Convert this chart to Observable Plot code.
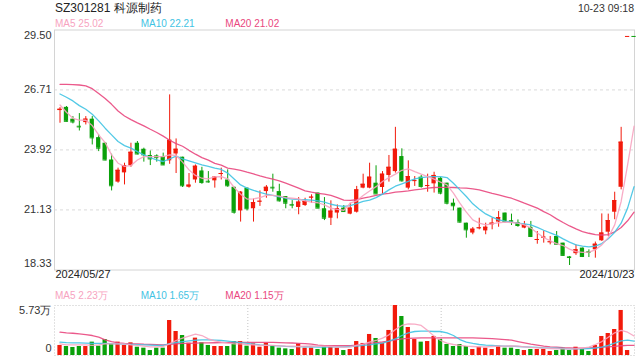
<!DOCTYPE html>
<html><head><meta charset="utf-8">
<script src="https://cdn.jsdelivr.net/npm/d3@7"></script>
<script src="https://cdn.jsdelivr.net/npm/@observablehq/plot@0.6"></script>
<style>
body{margin:0;background:#fff;font-family:"Liberation Sans",Arial,sans-serif;}
#wrap{position:relative;width:640px;height:360px;overflow:hidden;background:#fff;}
.t{position:absolute;white-space:nowrap;z-index:5;}
.p{position:absolute;left:0;}
</style></head><body><div id="wrap"></div>
<script>
// ---------- data ----------
const stockCode = "SZ301281";
const stockName = "科源制药";
const timeLabel = "10-23 09:18";
const dateLabels = ["2024/05/27", "2024/10/23"];
const maNames = ["MA5", "MA10", "MA20"];
const maLastLabels = ["25.02", "22.21", "21.02"];
const volMaLastLabels = ["2.23万", "1.65万", "1.15万"];
const yTicks = [29.50, 26.71, 23.92, 21.13, 18.33];
const volMax = 5.73;
const volTickLabels = ["5.73万", "0"];

const open = [25.75,25.90,25.35,25.02,25.19,25.35,24.49,24.23,23.45,22.42,22.85,23.18,24.23,23.95,23.66,23.64,23.61,23.41,23.73,23.58,
22.18,22.52,22.94,22.46,22.48,22.79,22.52,22.18,21.08,22.14,21.18,21.50,21.98,22.18,21.98,21.75,21.38,21.24,21.33,21.69,
21.91,21.18,20.74,20.98,21.21,20.93,21.02,22.14,22.14,22.37,22.17,22.73,22.91,23.61,22.14,22.46,22.65,22.23,22.34,22.60,
22.37,21.44,21.21,20.51,20.05,20.26,20.15,20.43,20.56,20.98,20.63,20.54,20.28,20.31,19.72,19.83,19.61,19.89,19.58,18.94,
19.09,19.35,19.18,19.27,19.69,20.09,21.02,22.18,29.20,29.20];
const high = [25.89,25.94,25.47,25.61,25.47,25.47,24.62,24.26,23.72,23.07,23.30,24.23,24.31,24.00,23.87,23.69,23.77,26.48,24.43,23.58,
22.82,23.22,23.11,22.91,22.68,23.07,22.99,22.18,21.98,22.14,21.63,22.01,22.26,22.79,22.32,21.75,21.56,21.70,21.67,21.83,
21.91,21.70,21.55,21.36,21.33,21.44,22.22,22.79,23.30,23.18,22.91,23.66,24.97,23.97,23.41,22.68,22.73,22.79,22.88,22.63,
22.37,21.63,21.21,20.51,20.31,20.74,20.51,20.74,21.05,20.98,20.93,20.66,20.59,20.59,20.12,20.15,19.89,20.12,19.58,18.96,
19.50,19.35,19.27,19.63,20.94,20.93,21.95,24.97,29.20,29.20];
const low = [25.16,25.22,25.13,24.80,25.08,24.15,23.84,23.41,22.01,22.37,22.29,23.11,23.69,23.35,23.19,23.35,23.19,23.25,22.82,22.17,
22.14,22.37,22.32,22.37,22.14,22.52,22.18,20.93,20.56,21.08,20.56,21.29,21.67,21.95,21.49,21.18,21.18,20.90,21.29,21.44,
21.18,20.63,20.40,20.71,21.02,20.90,20.98,22.11,22.11,21.86,21.86,22.42,22.84,22.42,22.06,22.22,22.14,21.95,21.91,21.83,
21.36,21.08,20.51,19.81,19.97,20.20,19.97,20.20,20.32,20.51,20.40,20.32,20.25,19.84,19.53,19.58,19.50,19.50,18.96,18.54,
19.01,18.91,18.91,18.88,19.66,19.89,20.67,22.06,29.20,29.20];
const close = [25.81,25.25,25.22,24.99,25.35,24.48,24.00,23.45,22.25,22.97,23.19,23.81,23.73,23.69,23.50,23.56,23.22,24.37,23.95,22.25,
22.28,23.16,22.40,22.43,22.65,22.82,22.25,21.02,21.95,21.18,21.47,21.53,22.18,22.15,21.55,21.44,21.35,21.49,21.52,21.72,
21.21,20.74,21.07,21.18,21.05,21.21,22.06,22.32,22.65,21.87,22.79,23.11,23.95,22.48,22.68,22.49,22.22,22.26,22.73,21.91,
21.44,21.32,20.56,20.20,20.23,20.29,20.32,20.51,20.77,20.59,20.60,20.40,20.43,19.89,19.75,19.86,19.64,19.53,19.01,18.91,
19.27,18.96,19.15,19.53,20.05,20.63,21.56,24.28,29.20,29.20];
const volume = [1.15,1.03,0.92,1.03,1.03,1.53,1.07,1.83,1.34,1.53,1.15,1.45,0.95,0.84,0.57,0.84,0.84,4.01,2.75,2.29,
1.41,1.99,1.45,1.15,1.03,1.03,1.03,1.60,1.60,1.07,1.34,0.95,1.41,1.07,0.84,0.76,0.69,1.34,0.84,0.84,
0.69,0.95,0.95,0.84,0.57,0.69,1.60,1.38,2.41,1.95,1.41,2.87,5.73,4.47,3.21,1.83,1.53,1.60,2.18,1.83,
1.26,1.03,1.26,1.03,0.69,0.95,0.84,0.69,1.07,0.84,0.84,0.69,0.57,0.69,0.69,0.69,0.46,0.57,0.84,0.57,
0.95,0.69,0.46,1.15,2.18,2.52,2.98,5.16,0.57,0];

const ma5 = [26.01,25.67,25.39,25.31,25.30,25.05,24.62,24.26,23.69,23.30,23.15,23.19,23.45,23.61,23.61,23.61,23.61,23.69,23.66,23.35,
22.99,22.73,22.60,22.57,22.66,22.68,22.57,22.17,21.86,21.63,21.64,21.70,21.80,21.80,21.77,21.70,21.67,21.64,21.55,21.49,
21.46,21.36,21.21,21.15,21.11,21.44,21.55,21.80,22.01,22.21,22.45,22.63,22.79,22.97,23.04,22.91,22.79,22.68,22.56,22.42,
22.29,21.91,21.44,21.02,20.66,20.51,20.43,20.48,20.53,20.56,20.54,20.51,20.43,20.28,20.05,19.84,19.69,19.56,19.47,19.30,
19.19,19.15,19.16,19.27,19.50,19.84,20.43,21.52,23.22,25.02];
const ma10 = [26.52,26.37,26.20,25.98,25.81,25.58,25.27,24.93,24.62,24.31,24.12,24.00,23.84,23.69,23.56,23.45,23.38,23.50,23.63,23.50,
23.41,23.32,23.22,23.15,23.07,23.01,22.84,22.57,22.29,22.14,22.04,21.94,21.86,21.80,21.73,21.67,21.63,21.61,21.60,21.58,
21.55,21.49,21.39,21.33,21.29,21.33,21.42,21.52,21.58,21.70,21.86,22.06,22.23,22.34,22.45,22.57,22.63,22.66,22.68,22.68,
22.63,22.37,22.06,21.75,21.41,21.16,20.94,20.79,20.66,20.60,20.56,20.51,20.48,20.43,20.31,20.18,20.06,19.94,19.78,19.63,
19.50,19.44,19.41,19.44,19.56,19.78,20.09,20.51,21.21,22.21];
const ma20 = [26.97,26.97,26.96,26.94,26.90,26.77,26.54,26.31,26.04,25.73,25.50,25.33,25.18,25.04,24.88,24.73,24.56,24.37,24.21,24.09,
23.90,23.72,23.56,23.44,23.29,23.21,23.07,23.02,22.97,22.88,22.80,22.71,22.63,22.56,22.48,22.37,22.26,22.14,22.01,21.95,
21.90,21.86,21.80,21.70,21.58,21.57,21.60,21.67,21.73,21.80,21.86,21.90,21.95,21.98,22.01,22.06,22.09,22.14,22.17,22.18,
22.18,22.17,22.15,22.14,22.11,22.06,21.98,21.90,21.83,21.75,21.67,21.56,21.44,21.33,21.21,21.05,20.90,20.71,20.54,20.38,
20.24,20.12,20.04,19.98,19.96,19.98,20.10,20.31,20.62,21.02];

const volMa5 = [1.34,1.22,1.22,1.22,1.22,1.15,1.22,1.34,1.34,1.34,1.34,1.22,1.15,1.07,0.99,0.99,1.03,1.34,1.72,1.99,
2.22,2.44,2.29,1.91,1.68,1.53,1.41,1.34,1.34,1.26,1.22,1.15,1.15,1.15,1.11,1.07,1.07,1.03,1.07,1.11,
1.07,1.07,1.03,0.99,0.95,0.99,1.15,1.30,1.53,1.72,1.99,2.37,2.98,3.44,3.63,3.59,3.44,2.87,2.22,1.72,
1.41,1.26,1.15,1.07,1.03,0.99,0.99,1.03,1.07,1.07,1.11,1.07,0.99,0.92,0.88,0.84,0.80,0.76,0.76,0.76,
0.76,0.84,0.95,1.26,1.60,2.10,2.60,2.87,2.67,2.23];
const volMa10 = [1.53,1.48,1.45,1.45,1.42,1.40,1.38,1.38,1.36,1.34,1.30,1.28,1.25,1.22,1.18,1.15,1.15,1.35,1.49,1.60,
1.68,1.75,1.80,1.78,1.77,1.72,1.65,1.57,1.47,1.40,1.30,1.21,1.17,1.14,1.10,1.05,1.02,1.02,1.00,0.98,
0.95,0.95,0.99,0.99,0.99,1.03,1.07,1.15,1.22,1.34,1.41,1.64,1.91,2.29,2.60,2.75,2.79,2.79,2.75,2.75,
2.60,2.29,1.83,1.53,1.38,1.26,1.18,1.15,1.11,1.07,1.07,1.03,0.99,0.95,0.92,0.88,0.84,0.84,0.80,0.76,
0.76,0.76,0.80,0.84,0.95,1.15,1.41,1.68,1.76,1.65];
const volMa20 = [2.67,2.60,2.55,2.48,2.40,2.29,2.10,1.80,1.60,1.45,1.38,1.34,1.34,1.30,1.28,1.25,1.22,1.28,1.33,1.38,
1.40,1.42,1.44,1.45,1.46,1.47,1.48,1.50,1.50,1.50,1.50,1.50,1.50,1.50,1.48,1.45,1.43,1.40,1.37,1.30,
1.20,1.12,1.12,1.12,1.12,1.12,1.20,1.30,1.40,1.48,1.55,1.65,1.80,1.90,1.96,2.00,2.02,2.02,2.02,2.02,
2.02,2.02,2.02,2.02,2.02,2.00,1.97,1.93,1.88,1.82,1.76,1.60,1.45,1.30,1.18,1.07,1.00,0.95,0.90,0.87,
0.84,0.84,0.86,0.90,0.95,1.00,1.05,1.12,1.15,1.15];

// ---------- styling ----------
const RED = "#f21a0b", GREEN = "#0aa00a";
const MA_COLORS = ["#f7a3c0", "#3fc3e3", "#e9477e"];
const FONT = "'Liberation Sans', Arial, sans-serif";
const X_DOMAIN = [-0.853, 89.07];
const HALF = 0.33;

const N = close.length;
const rows = d3.range(N).map(i => {
  const o = open[i], c = close[i];
  const up = c > o || (c === o && (i === 0 || c > close[i - 1]));
  return {i, o, h: high[i], l: low[i], c, v: volume[i], col: up ? RED : GREEN,
          m5: ma5[i], m10: ma10[i], m20: ma20[i], vm5: volMa5[i], vm10: volMa10[i], vm20: volMa20[i]};
});

const wrap = document.getElementById("wrap");

function addText(txt, style) {
  const d = document.createElement("div");
  d.className = "t";
  d.textContent = txt;
  Object.assign(d.style, style);
  wrap.appendChild(d);
}

// ---------- main price chart ----------
const main = Plot.plot({
  width: 640, height: 290,
  marginLeft: 54, marginRight: 6, marginTop: 29.5, marginBottom: 20.5,
  x: {type: "linear", domain: X_DOMAIN, axis: null},
  y: {domain: [yTicks[yTicks.length - 1], yTicks[0]], axis: null},
  color: {type: "identity"},
  style: {background: "none", fontFamily: FONT, fontSize: "11px", overflow: "visible"},
  marks: [
    Plot.ruleY(yTicks.slice(1, -1), {stroke: "#e2e2e2", strokeDasharray: "3,3", strokeWidth: 1.2}),
    Plot.frame({stroke: "#d4d4d4"}),
    Plot.ruleX(rows, {x: "i", y1: "l", y2: "h", stroke: "col", strokeWidth: 1}),
    Plot.rect(rows, {x1: d => d.i - HALF, x2: d => d.i + HALF, y1: "o", y2: "c", fill: "col"}),
    Plot.ruleY(rows, {x1: d => d.i - HALF, x2: d => d.i + HALF, y: "c", stroke: "col"}),
    Plot.line(rows, {x: "i", y: "m20", stroke: MA_COLORS[2], strokeWidth: 1.3, strokeOpacity: 0.9}),
    Plot.line(rows, {x: "i", y: "m10", stroke: MA_COLORS[1], strokeWidth: 1.3, strokeOpacity: 0.9}),
    Plot.line(rows, {x: "i", y: "m5", stroke: MA_COLORS[0], strokeWidth: 1.3, strokeOpacity: 0.9}),
    Plot.text(yTicks.slice(1, -1), {y: d => d, text: d => d.toFixed(2), frameAnchor: "left", textAnchor: "end", dx: -3, fill: "#333"}),
    Plot.text([yTicks[0]], {y: d => d, text: d => d.toFixed(2), frameAnchor: "left", textAnchor: "end", dx: -3, dy: 5, fill: "#333"}),
    Plot.text([yTicks[yTicks.length - 1]], {y: d => d, text: d => d.toFixed(2), frameAnchor: "left", textAnchor: "end", dx: -3, dy: -7, fill: "#333"}),
    Plot.text([dateLabels[0]], {text: d => d, frameAnchor: "bottom-left", textAnchor: "start", dx: 1, dy: 8, fill: "#222"}),
    Plot.text([dateLabels[1]], {text: d => d, frameAnchor: "bottom-right", textAnchor: "end", dx: 0, dy: 8, fill: "#222"})
  ]
});
main.classList.add("p");
main.style.top = "0px";
wrap.appendChild(main);

// ---------- volume chart ----------
const volPlot = Plot.plot({
  width: 640, height: 70,
  marginLeft: 54, marginRight: 6, marginTop: 15, marginBottom: 5,
  x: {type: "linear", domain: X_DOMAIN, axis: null},
  y: {domain: [0, volMax], axis: null},
  color: {type: "identity"},
  style: {background: "none", fontFamily: FONT, fontSize: "11px", overflow: "visible"},
  marks: [
    Plot.frame({stroke: "#c4c4c4", strokeDasharray: "1,2"}),
    Plot.ruleX([X_DOMAIN[0] + (X_DOMAIN[1] - X_DOMAIN[0]) / 3, X_DOMAIN[0] + 2 * (X_DOMAIN[1] - X_DOMAIN[0]) / 3],
      {stroke: "#c4c4c4", strokeDasharray: "1,2"}),
    Plot.rect(rows.filter(d => d.v > 0), {x1: d => d.i - HALF, x2: d => d.i + HALF, y1: 0, y2: "v", fill: "col"}),
    Plot.line(rows, {x: "i", y: "vm20", stroke: MA_COLORS[2], strokeWidth: 1.3, strokeOpacity: 0.9}),
    Plot.line(rows, {x: "i", y: "vm10", stroke: MA_COLORS[1], strokeWidth: 1.3, strokeOpacity: 0.9}),
    Plot.line(rows, {x: "i", y: "vm5", stroke: MA_COLORS[0], strokeWidth: 1.3, strokeOpacity: 0.9}),
    Plot.text([volMax], {y: d => d, text: () => volTickLabels[0], frameAnchor: "left", textAnchor: "end", dx: -3, dy: 5, fill: "#333"}),
    Plot.text([0], {y: d => d, text: () => volTickLabels[1], frameAnchor: "left", textAnchor: "end", dx: -3, dy: -7, fill: "#333"})
  ]
});
volPlot.classList.add("p");
volPlot.style.top = "290px";
wrap.appendChild(volPlot);

// ---------- header / legends ----------
addText(stockCode + " " + stockName, {left: "55px", top: "1px", fontSize: "12px", lineHeight: "14px", color: "#222"});
addText(timeLabel, {right: "6px", top: "1px", fontSize: "10.5px", lineHeight: "14px", color: "#333"});
const legendX = [55, 140.7, 225.3];
maNames.forEach((n, k) => {
  addText(n + " " + maLastLabels[k], {left: legendX[k] + "px", top: "17.8px", fontSize: "10px", lineHeight: "12px", color: MA_COLORS[k]});
  addText(n + " " + volMaLastLabels[k], {left: legendX[k] + "px", top: "289.5px", fontSize: "10px", lineHeight: "12px", color: MA_COLORS[k]});
});
</script></body></html>
